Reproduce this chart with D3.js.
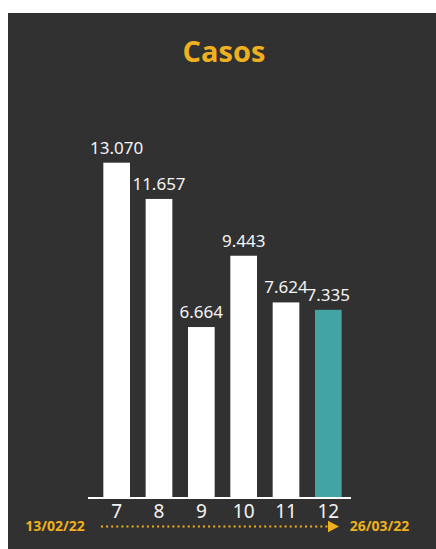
<!DOCTYPE html>
<html><head><meta charset="utf-8">
<script src="https://cdn.jsdelivr.net/npm/d3@7"></script>
<style>
html,body{margin:0;padding:0;background:#fff;}
svg{display:block;}
</style></head>
<body>
<svg id="c" width="436" height="549"></svg>
<script>
const title = "Casos";
const categories = ["7","8","9","10","11","12"];
const values = [13070, 11657, 6664, 9443, 7624, 7335];
const valueLabels = ["13.070","11.657","6.664","9.443","7.624","7.335"];
const startDate = "13/02/22";
const endDate = "26/03/22";

const svg = d3.select("#c");
const gold = "#efb020";
const teal = "#42a4a3";

svg.append("rect").attr("x",8).attr("y",13).attr("width",428).attr("height",536).attr("fill","#313131");

svg.append("text").attr("x",224).attr("y",62).attr("text-anchor","middle")
  .attr("font-family","'Open Sans', 'Noto Sans', sans-serif").attr("font-weight",700)
  .attr("font-size",29).attr("fill",gold).text(title);

const x = d3.scaleBand().domain(categories).range([95.5,349.5]).paddingInner(0.37).paddingOuter(0.185);
const y = d3.scaleLinear().domain([0, d3.max(values)]).range([498, 162.7]);

const data = categories.map((c,i)=>({c, v: values[i], l: valueLabels[i]}));

svg.selectAll("rect.bar").data(data).join("rect").attr("class","bar")
  .attr("x",d=>x(d.c)).attr("width",x.bandwidth())
  .attr("y",d=>y(d.v)).attr("height",d=>y(0)-y(d.v))
  .attr("fill",(d,i)=> i===data.length-1 ? teal : "#ffffff");

svg.selectAll("text.val").data(data).join("text").attr("class","val")
  .attr("x",d=>x(d.c)+x.bandwidth()/2).attr("y",d=>y(d.v)-9)
  .attr("text-anchor","middle").attr("font-family","'Noto Sans', sans-serif")
  .attr("font-size",17).attr("fill","#f4f4f4").text(d=>d.l);

// axis
const axis = d3.axisBottom(x).tickSize(0).tickPadding(4);
const g = svg.append("g").attr("transform","translate(0,498)").call(axis);
g.select(".domain").remove();
g.append("line").attr("x1",88).attr("x2",351).attr("y1",0).attr("y2",0).attr("stroke","#fff").attr("stroke-width",2);
g.selectAll(".tick text").attr("font-family","'Noto Sans', sans-serif").attr("font-size",19)
  .attr("fill","#f4f4f4").attr("dy",null).attr("y",20);

// date arrow
svg.append("text").attr("x",55).attr("y",531).attr("text-anchor","middle")
  .attr("font-family","'Open Sans', 'Noto Sans', sans-serif").attr("font-weight",700)
  .attr("font-size",14).attr("fill",gold).text(startDate);
svg.append("text").attr("x",379.5).attr("y",531).attr("text-anchor","middle")
  .attr("font-family","'Open Sans', 'Noto Sans', sans-serif").attr("font-weight",700)
  .attr("font-size",14).attr("fill",gold).text(endDate);
svg.append("line").attr("x1",101).attr("x2",330).attr("y1",526.5).attr("y2",526.5)
  .attr("stroke",gold).attr("stroke-width",2.2).attr("stroke-dasharray","2,3.1").attr("stroke-linecap","butt");
svg.append("path").attr("d","M328,520.7 L339,526.5 L328,532.3 Z").attr("fill",gold);
</script>
</body></html>
